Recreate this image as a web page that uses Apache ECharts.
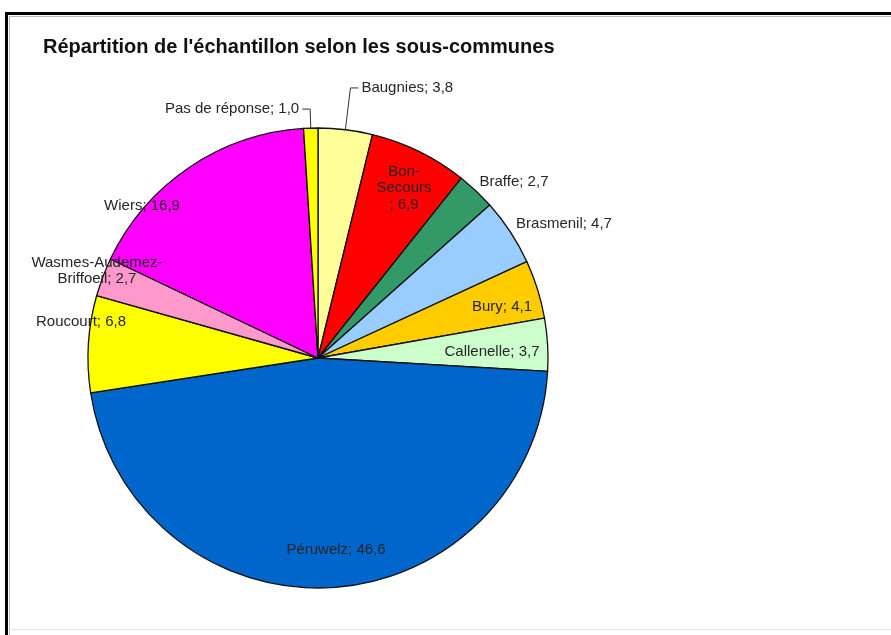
<!DOCTYPE html>
<html>
<head>
<meta charset="utf-8">
<script src="https://cdn.jsdelivr.net/npm/echarts@6/dist/echarts.min.js"></script>
<style>
html,body{margin:0;padding:0;background:#fff;}
#chart{width:891px;height:635px;}
</style>
</head>
<body>
<div id="chart"></div>
<script>
// ---- data ----
const categories = ['Baugnies','Bon-Secours','Braffe','Brasmenil','Bury','Callenelle','Péruwelz','Roucourt','Wasmes-Audemez-Briffoeil','Wiers','Pas de réponse'];
const values = [3.8, 6.9, 2.7, 4.7, 4.1, 3.7, 46.6, 6.8, 2.7, 16.9, 1.0];
const titleText = "Répartition de l'échantillon selon les sous-communes";

// ---- styling ----
const colors = ['#FFFF99','#FF0000','#339966','#99CCFF','#FFCC00','#CCFFCC','#0066CC','#FFFF00','#FF99CC','#FF00FF','#FFFF00'];
const labelBreaks = {'Bon-Secours': 'Bon-\nSecours\n', 'Wasmes-Audemez-Briffoeil': 'Wasmes-Audemez-\nBriffoeil'};
const CX = 318, CY = 358, R = 230;
// label anchor offsets from the pie centre (null = outside with leader line)
const labelOffsets = [null, [86,-170], [196,-176], [246,-134], [184,-51], [174,-6], [18,192], [-237,-36], [-221,-87], [-176,-152], null];
const leaderLengths = [[42, 8], null, null, null, null, null, null, null, null, null, [19, 8]];

function fmt(v){ return v.toFixed(1).replace('.', ','); }

const data = categories.map((name, i) => {
  const outside = labelOffsets[i] === null;
  const item = {
    name: name,
    value: values[i],
    itemStyle: {color: colors[i]},
    label: {position: outside ? 'outside' : 'inside'},
    labelLine: {show: outside}
  };
  if (outside) item.labelLine.length = leaderLengths[i][0], item.labelLine.length2 = leaderLengths[i][1];
  return item;
});

const chart = echarts.init(document.getElementById('chart'), null, {renderer: 'canvas'});
chart.setOption({
  animation: false,
  backgroundColor: '#fff',
  title: {
    text: titleText,
    left: 38, top: 32,
    textStyle: {fontFamily: 'Liberation Sans, Arial, sans-serif', fontSize: 20, fontWeight: 'bold', color: '#111'}
  },
  graphic: [
    {type: 'rect', shape: {x: 5, y: 12, width: 900, height: 3}, style: {fill: '#000'}},
    {type: 'rect', shape: {x: 5, y: 12, width: 3, height: 640}, style: {fill: '#000'}},
    {type: 'rect', shape: {x: 9, y: 16, width: 900, height: 1}, style: {fill: '#bbb'}},
    {type: 'rect', shape: {x: 9, y: 16, width: 1, height: 640}, style: {fill: '#bbb'}},
    {type: 'rect', shape: {x: 9, y: 629, width: 900, height: 1}, style: {fill: '#e4e4e4'}}
  ],
  series: [{
    type: 'pie',
    center: [CX, CY],
    radius: R,
    startAngle: 90,
    clockwise: true,
    avoidLabelOverlap: false,
    silent: true,
    itemStyle: {borderColor: '#111', borderWidth: 1.3},
    label: {
      fontFamily: 'Liberation Sans, Arial, sans-serif',
      fontSize: 15,
      color: '#262626',
      lineHeight: 16.5,
      align: 'center',
      distanceToLabelLine: 3,
      formatter: p => (labelBreaks[p.name] ? labelBreaks[p.name] : p.name) + '; ' + fmt(p.value)
    },
    labelLine: {lineStyle: {color: '#333', width: 1}, smooth: false},
    labelLayout: function (params) {
      const o = labelOffsets[params.dataIndex];
      if (!o) return {};
      return {x: CX + o[0], y: CY + o[1], align: 'center', verticalAlign: 'middle'};
    },
    data: data
  }]
});
</script>
</body>
</html>
